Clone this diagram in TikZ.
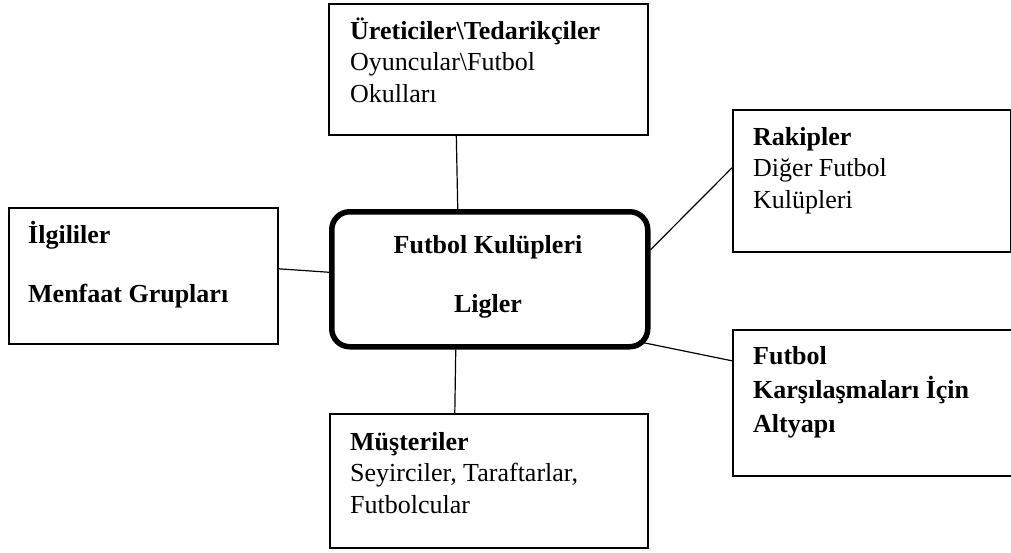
\documentclass[tikz,border=0pt]{standalone}
\usepackage{fontspec}
\setmainfont{Liberation Serif}
\usepackage{xcolor}
\usepackage{tikz}

\begin{document}
\begin{tikzpicture}[x=1pt,y=-1pt,
 kutu/.style={draw, line width=1.6pt, anchor=north west, inner sep=0pt},
 yazi/.style={inner sep=0pt, anchor=base west, align=left, font=\fontsize{26}{31.5}\selectfont},
 bag/.style={line width=1.2pt}]
\useasboundingbox (0,0) rectangle (1011,552);
\node[kutu, minimum width=319pt, minimum height=131pt] (U) at (328,3) {};
\node[kutu, minimum width=278pt, minimum height=142pt] (R) at (732,109) {};
\node[kutu, minimum width=269pt, minimum height=136pt] (I) at (8,207) {};
\node[kutu, minimum width=310pt, minimum height=146pt] (A) at (732,329) {};
\node[kutu, minimum width=318pt, minimum height=134pt] (M) at (329,413) {};
\node[draw, line width=5.5pt, rounded corners=18pt, anchor=north west, minimum width=316pt, minimum height=135pt] (K) at (329,209) {};
\node[yazi] (U-t) at (350,102) {\textbf{Üreticiler\textbackslash Tedarikçiler}\\ Oyuncular\textbackslash Futbol\\ Okulları};
\node[yazi] (R-t) at (753,208) {\textbf{Rakipler}\\ Diğer Futbol\\ Kulüpleri};
\node[yazi] (I-t) at (28,302) {\textbf{İlgililer}\\[27.5pt] \textbf{Menfaat Grupları}};
\node[yazi, anchor=base, align=center] (K-t) at (488,312) {\textbf{Futbol Kulüpleri}\\[27.5pt] \textbf{Ligler}};
\node[yazi, font=\fontsize{26}{34}\selectfont\bfseries] (A-t) at (753,432) {Futbol\\ Karşılaşmaları İçin\\ Altyapı};
\node[yazi] (M-t) at (350,513) {\textbf{Müşteriler}\\ Seyirciler, Taraftarlar,\\ Futbolcular};
\draw[bag] ([xshift=-32pt]U.south) -- ([xshift=-32pt]K.north);
\draw[bag] ([yshift=7pt]I.east) -- ([yshift=7pt]K.west);
\draw[bag] ([yshift=29.5pt]K.east) -- ([yshift=13pt]R.west);
\draw[bag] ([shift={(-8pt,7pt)}]K.south east) -- ([yshift=42pt]A.west);
\draw[bag] ([xshift=-34pt]K.south) -- ([xshift=-34pt]M.north);
\end{tikzpicture}
\end{document}
